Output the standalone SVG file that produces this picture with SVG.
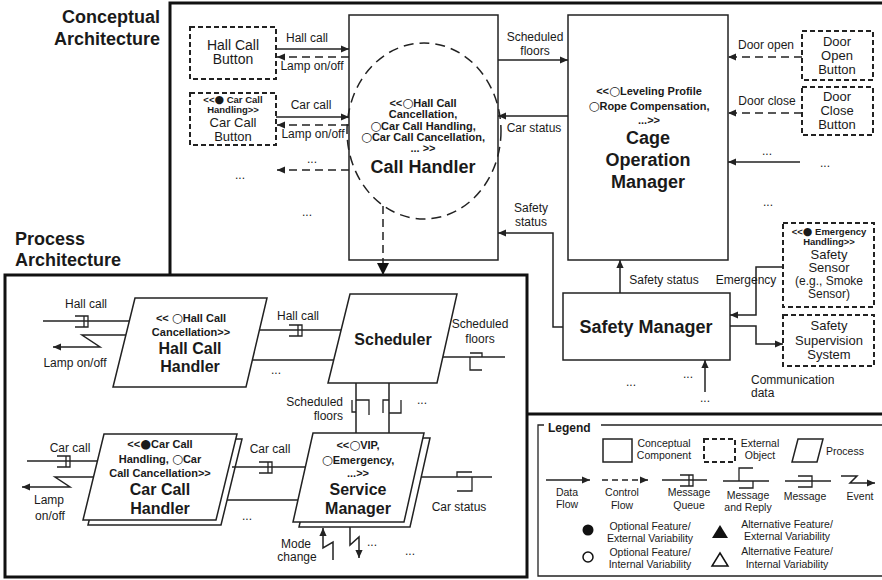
<svg xmlns="http://www.w3.org/2000/svg" width="882" height="580" viewBox="0 0 882 580">
<defs>
<style>
text{font-family:"Liberation Sans",Arial,"DejaVu Sans",sans-serif;fill:#1a1a1a;text-anchor:middle}
.b{font-weight:bold}
.c{font-family:"DejaVu Sans",sans-serif;font-weight:normal;font-size:12.5px}
.cs{font-family:"DejaVu Sans",sans-serif;font-weight:normal;font-size:11px}
.st{font-weight:bold;font-size:11px}
.st10{font-weight:bold;font-size:9.5px}
.lb{font-size:12px}
.nm{font-size:14px}
.nm13{font-size:13px}
.big{font-weight:bold;font-size:18px}
.pr{font-weight:bold;font-size:16px}
.lg{font-size:10.5px}
.frame{fill:none;stroke:#111;stroke-width:3}
.box{fill:#fff;stroke:#222;stroke-width:1.5}
.ext{fill:#fff;stroke:#222;stroke-width:2;stroke-dasharray:5 3}
.ln{fill:none;stroke:#222;stroke-width:1.5}
.dl{fill:none;stroke:#222;stroke-width:1.5;stroke-dasharray:8 5}
.ell{fill:none;stroke:#222;stroke-width:1.5;stroke-dasharray:10 6}
.sym{fill:none;stroke:#222;stroke-width:1.3}
</style>
<marker id="ah" markerUnits="userSpaceOnUse" viewBox="0 0 10 10" refX="10" refY="5" markerWidth="9" markerHeight="8" orient="auto"><path d="M0,0.5 L10,5 L0,9.5z" fill="#222"/></marker>
<marker id="tri" markerUnits="userSpaceOnUse" viewBox="0 0 10 10" refX="10" refY="5" markerWidth="12" markerHeight="12" orient="auto"><path d="M0,0 L10,5 L0,10z" fill="#111"/></marker>
</defs>
<rect width="882" height="580" fill="#fff"/>

<!-- frames -->
<g id="frames">
<path class="frame" d="M882,3 H170 V275"/>
<path class="frame" d="M527,414 H882"/>
<rect class="frame" x="5" y="275" width="522" height="302"/>
<text class="big" x="160" y="23" style="text-anchor:end">Conceptual</text>
<text class="big" x="160" y="45" style="text-anchor:end">Architecture</text>
<text class="big" x="15" y="245" style="text-anchor:start">Process</text>
<text class="big" x="15" y="266" style="text-anchor:start">Architecture</text>
</g>

<!-- conceptual nodes -->
<g id="hall-call-button">
<rect class="ext" x="190" y="27" width="86" height="52"/>
<text class="nm" x="233" y="50">Hall Call</text>
<text class="nm" x="233" y="64">Button</text>
</g>
<g id="car-call-button">
<rect class="ext" x="190" y="93" width="86" height="52"/>
<text class="st10" x="233" y="103">&lt;&lt;<tspan class="cs">●</tspan> Car Call</text>
<text class="st10" x="233" y="113">Handling&gt;&gt;</text>
<text class="nm13" x="233" y="127">Car Call</text>
<text class="nm13" x="233" y="141">Button</text>
</g>
<g id="call-handler">
<rect class="box" x="349" y="15" width="149" height="245"/>
<ellipse class="ell" cx="424" cy="131" rx="77" ry="88"/>
<text class="st" x="423" y="107">&lt;&lt;<tspan class="c">○</tspan>Hall Call</text>
<text class="st" x="423" y="118">Cancellation,</text>
<text class="st" x="423" y="130"><tspan class="c">○</tspan>Car Call Handling,</text>
<text class="st" x="423" y="141"><tspan class="c">○</tspan>Car Call Cancellation,</text>
<text class="st" x="423" y="152">... &gt;&gt;</text>
<text class="big" x="423" y="173">Call Handler</text>
</g>
<g id="cage-operation-manager">
<rect class="box" x="568" y="15" width="160" height="245"/>
<text class="st" x="649" y="95">&lt;&lt;<tspan class="c">○</tspan>Leveling Profile</text>
<text class="st" x="649" y="110"><tspan class="c">○</tspan>Rope Compensation,</text>
<text class="st" x="649" y="124">...&gt;&gt;</text>
<text class="big" x="648" y="144">Cage</text>
<text class="big" x="648" y="166">Operation</text>
<text class="big" x="648" y="188">Manager</text>
</g>
<g id="door-open-button">
<rect class="ext" x="802" y="31" width="71" height="49"/>
<text class="nm13" x="837" y="46">Door</text>
<text class="nm13" x="837" y="60">Open</text>
<text class="nm13" x="837" y="74">Button</text>
</g>
<g id="door-close-button">
<rect class="ext" x="802" y="87" width="71" height="48"/>
<text class="nm13" x="837" y="101">Door</text>
<text class="nm13" x="837" y="115">Close</text>
<text class="nm13" x="837" y="129">Button</text>
</g>
<g id="safety-manager">
<rect class="box" x="563" y="293" width="167" height="67"/>
<text class="big" x="646" y="333">Safety Manager</text>
</g>
<g id="safety-sensor">
<rect class="ext" x="783" y="223" width="91" height="84"/>
<text class="st10" x="829" y="235">&lt;&lt;<tspan class="cs">●</tspan> Emergency</text>
<text class="st10" x="829" y="245">Handling&gt;&gt;</text>
<text class="nm13" x="829" y="259">Safety</text>
<text class="nm13" x="829" y="272">Sensor</text>
<text class="lb" x="829" y="285">(e.g., Smoke</text>
<text class="lb" x="829" y="298">Sensor)</text>
</g>
<g id="safety-supervision-system">
<rect class="ext" x="783" y="315" width="91" height="51"/>
<text class="nm13" x="829" y="330">Safety</text>
<text class="nm13" x="829" y="345">Supervision</text>
<text class="nm13" x="829" y="359">System</text>
</g>

<!-- process nodes -->
<g id="hall-call-handler">
<polygon class="box" points="135,298 267,298 246,387 113,387"/>
<text class="st" x="191" y="322">&lt;&lt; <tspan class="c">○</tspan>Hall Call</text>
<text class="st" x="191" y="336">Cancellation&gt;&gt;</text>
<text class="pr" x="190" y="354">Hall Call</text>
<text class="pr" x="190" y="372">Handler</text>
</g>
<g id="scheduler">
<polygon class="box" points="350,294 457,294 437,383 328,383"/>
<text class="pr" x="393" y="345">Scheduler</text>
</g>
<g id="car-call-handler">
<polygon class="box" points="109,439 242,439 221,525 88,525"/>
<polygon class="box" points="104,434 237,434 216,520 83,520"/>
<text class="st" x="160" y="448">&lt;&lt;<tspan class="c">●</tspan>Car Call</text>
<text class="st" x="160" y="463">Handling, <tspan class="c">○</tspan>Car</text>
<text class="st" x="160" y="477">Call Cancellation&gt;&gt;</text>
<text class="pr" x="160" y="495">Car Call</text>
<text class="pr" x="160" y="514">Handler</text>
</g>
<g id="service-manager">
<polygon class="box" points="319,438 430,438 410,527 299,527"/>
<polygon class="box" points="313,433 424,433 404,522 293,522"/>
<text class="st" x="358" y="449">&lt;&lt;<tspan class="c">○</tspan>VIP,</text>
<text class="st" x="358" y="464"><tspan class="c">○</tspan>Emergency,</text>
<text class="st" x="358" y="477">...&gt;&gt;</text>
<text class="pr" x="358" y="495">Service</text>
<text class="pr" x="358" y="514">Manager</text>
</g>

<!-- connectors -->
<g id="connectors">
<path class="ln" d="M276,49 H349" marker-end="url(#ah)"/>
<text class="lb" x="307" y="42">Hall call</text>
<path class="dl" d="M349,57 H277" marker-end="url(#ah)"/>
<text class="lb" x="312" y="70">Lamp on/off</text>
<path class="ln" d="M276,117 H349" marker-end="url(#ah)"/>
<text class="lb" x="311" y="109">Car call</text>
<path class="dl" d="M349,125 H277" marker-end="url(#ah)"/>
<text class="lb" x="313" y="138">Lamp on/off</text>
<path class="dl" d="M349,170 H277" marker-end="url(#ah)"/>
<text class="lb" x="312" y="163">...</text>
<text class="lb" x="240" y="179">...</text>
<text class="lb" x="307" y="216">...</text>
<path class="dl" d="M383,206 V275" marker-end="url(#tri)"/>

<path class="ln" d="M498,60 H568" marker-end="url(#ah)"/>
<text class="lb" x="535" y="41">Scheduled</text>
<text class="lb" x="535" y="55">floors</text>
<path class="ln" d="M568,116 H498" marker-end="url(#ah)"/>
<text class="lb" x="534" y="132">Car status</text>
<path class="ln" d="M563,327 H553 V233 H498" marker-end="url(#ah)"/>
<text class="lb" x="531" y="212">Safety</text>
<text class="lb" x="531" y="226">status</text>

<path class="dl" d="M802,57 H728" marker-end="url(#ah)"/>
<text class="lb" x="766" y="49">Door open</text>
<path class="dl" d="M802,113 H728" marker-end="url(#ah)"/>
<text class="lb" x="767" y="105">Door close</text>
<path class="ln" d="M800,162 H728" marker-end="url(#ah)"/>
<text class="lb" x="767" y="155">...</text>
<text class="lb" x="825" y="167">...</text>
<text class="lb" x="768" y="206">...</text>

<path class="ln" d="M620,293 V260" marker-end="url(#ah)"/>
<text class="lb" x="664" y="284">Safety status</text>
<path class="ln" d="M783,267 H756 V315 H730" marker-end="url(#ah)"/>
<text class="lb" x="746" y="284">Emergency</text>
<path class="ln" d="M730,326 H756 V344 H783" marker-end="url(#ah)"/>
<path class="ln" d="M705,392 V360" marker-end="url(#ah)"/>
<text class="lb" x="688" y="378">...</text>
<text class="lb" x="631" y="386">...</text>
<text class="lb" x="705" y="402">...</text>
<text class="lb" x="751" y="384" style="text-anchor:start">Communication</text>
<text class="lb" x="751" y="397" style="text-anchor:start">data</text>

<path class="ln" d="M43,321 H129"/>
<path class="sym" d="M75,316 H88 V327 H75 M84,316 V327"/>
<text class="lb" x="86" y="308">Hall call</text>
<path class="ln" d="M126,335 H82 L100,347 H53" marker-end="url(#ah)"/>
<text class="lb" x="75" y="367">Lamp on/off</text>

<path class="ln" d="M259,330 H341"/>
<path class="sym" d="M289,325 H302 V336 H289 M298,325 V336"/>
<text class="lb" x="298" y="320">Hall call</text>
<path class="ln" d="M252,360 H334"/>
<text class="lb" x="276" y="374">...</text>

<path class="ln" d="M443,357 H505"/>
<path class="sym" d="M470,353 H482 V357 M470,357 V370 H482"/>
<text class="lb" x="480" y="328">Scheduled</text>
<text class="lb" x="480" y="343">floors</text>

<path class="ln" d="M356,383 V433 M389,383 V433"/>
<path class="sym" d="M352,400 V412 H356 M356,400 H369 V415"/>
<path class="sym" d="M383,413 V400 H389 M389,413 H401 V400"/>
<text class="lb" x="343" y="406" style="text-anchor:end">Scheduled</text>
<text class="lb" x="343" y="420" style="text-anchor:end">floors</text>
<text class="lb" x="422" y="404">...</text>

<path class="ln" d="M27,461 H97"/>
<path class="sym" d="M57,456 H70 V467 H57 M66,456 V467"/>
<text class="lb" x="70" y="452">Car call</text>
<path class="ln" d="M94,477 H55 L70,487 H22" marker-end="url(#ah)"/>
<text class="lb" x="49" y="504">Lamp</text>
<text class="lb" x="50" y="520">on/off</text>

<path class="ln" d="M232,467 H305"/>
<path class="sym" d="M259,462 H272 V473 H259 M268,462 V473"/>
<text class="lb" x="270" y="453">Car call</text>
<path class="ln" d="M227,500 H298"/>
<text class="lb" x="247" y="520">...</text>

<path class="ln" d="M421,477 H492"/>
<path class="sym" d="M472,472 H457 V477 M472,477 V491 H457"/>
<text class="lb" x="459" y="511">Car status</text>

<path class="ln" d="M333,560 V542 L323,548 V528" marker-end="url(#ah)"/>
<text class="lb" x="296" y="548">Mode</text>
<text class="lb" x="297" y="561">change</text>
<path class="ln" d="M350,527 V545 L359,537 V558" marker-end="url(#ah)"/>
<text class="lb" x="372" y="546">...</text>
<text class="lb" x="410" y="555">...</text>
</g>

<!-- legend -->
<g id="legend">
<path class="ln" d="M544,425 H538 V576 H882 M601,425 H882" style="stroke-width:1.3"/>
<text class="b" x="548" y="432" style="font-size:12px;text-anchor:start">Legend</text>
<rect class="box" x="603" y="439" width="29" height="23"/>
<text class="lg" x="664" y="447">Conceptual</text>
<text class="lg" x="664" y="459">Component</text>
<rect class="ext" x="704" y="439" width="31" height="23"/>
<text class="lg" x="760" y="447">External</text>
<text class="lg" x="760" y="459">Object</text>
<polygon class="box" points="798,439 823,439 817,462 792,462"/>
<text class="lg" x="826" y="455" style="text-anchor:start">Process</text>

<path class="ln" d="M546,480 H590" marker-end="url(#ah)"/>
<text class="lg" x="567" y="496">Data</text>
<text class="lg" x="567" y="508">Flow</text>
<path class="dl" d="M602,480 H648" style="stroke-dasharray:6 4" marker-end="url(#ah)"/>
<text class="lg" x="622" y="496">Control</text>
<text class="lg" x="622" y="509">Flow</text>
<path class="ln" d="M662,480 H707"/>
<path class="sym" d="M680,475 H693 V486 H680 M689,475 V486"/>
<text class="lg" x="689" y="496">Message</text>
<text class="lg" x="689" y="509">Queue</text>
<path class="ln" d="M723,481 H769"/>
<path class="sym" d="M753,468 H739 V481 M753,481 V488 H739"/>
<text class="lg" x="748" y="499">Message</text>
<text class="lg" x="748" y="511">and Reply</text>
<path class="ln" d="M785,481 H831"/>
<path class="sym" d="M798,476 H812 V487 H798"/>
<text class="lg" x="805" y="500">Message</text>
<path class="ln" d="M841,476 H857 L850,483 H875" marker-end="url(#ah)"/>
<text class="lg" x="860" y="500">Event</text>

<circle cx="588" cy="530" r="5.5" fill="#111"/>
<text class="lg" x="650" y="530">Optional Feature/</text>
<text class="lg" x="650" y="542">External Variability</text>
<circle cx="588" cy="557" r="5" fill="#fff" stroke="#111" stroke-width="1.5"/>
<text class="lg" x="650" y="556">Optional Feature/</text>
<text class="lg" x="650" y="568">Internal Variability</text>
<polygon points="720,525 728,538 712,538" fill="#111"/>
<text class="lg" x="787" y="528">Alternative Feature/</text>
<text class="lg" x="787" y="540">External Variability</text>
<polygon points="720,553 728,566 712,566" fill="#fff" stroke="#111" stroke-width="1.5"/>
<text class="lg" x="787" y="555">Alternative Feature/</text>
<text class="lg" x="787" y="568">Internal Variability</text>
</g>
</svg>
